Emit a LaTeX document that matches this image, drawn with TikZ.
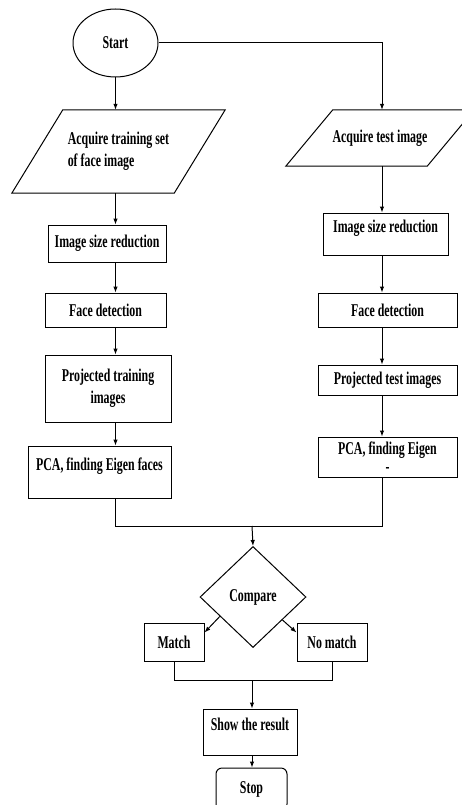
\documentclass[tikz,border=0pt]{standalone}
\usepackage{fontspec}
\setmainfont{Liberation Serif}[FakeStretch=0.66]
\usepackage{tikz}
\usetikzlibrary{
    arrows.meta,
    positioning,
    shapes.geometric,
    calc
}

\begin{document}
\begin{tikzpicture}[
        x=1pt, y=-1pt,
        every node/.style={
            font=\bfseries\fontsize{18}{22}\selectfont
        },
        block/.style={
            rectangle,
            draw,
            line width=1pt,
            align=center,
            inner sep=1pt
        },
        io/.style={
            rectangle,
            inner sep=1pt
        },
        line/.style={
            -{Latex[length=6pt,width=4.5pt]},
            line width=1pt
        },
        joint/.style={
            line width=1pt
        }
    ]

    \useasboundingbox (0,0) rectangle (461,805);

    \node[ellipse, draw, line width=1pt, minimum width=85pt,
        minimum height=68pt, inner sep=0pt] (start) at (115.5,43) {Start};

    \coordinate (rcol) at (382,0);

    \node[io, align=left, minimum width=162pt, minimum height=83pt]
        (acqtrain) at (118.5,151.5)
        {Acquire training set\\of face image};

    \node[io, align=center, minimum width=141pt, minimum height=56pt]
        (acqtest) at (380,138)
        {Acquire test image};

    \draw[joint] ([xshift=25.5pt]acqtrain.north west)
        -- ([xshift=25.5pt]acqtrain.north east)
        -- ([xshift=-25.5pt]acqtrain.south east)
        -- ([xshift=-25.5pt]acqtrain.south west) -- cycle;

    \draw[joint] ([xshift=23.5pt]acqtest.north west)
        -- ([xshift=23.5pt]acqtest.north east)
        -- ([xshift=-23.5pt]acqtest.south east)
        -- ([xshift=-23.5pt]acqtest.south west) -- cycle;

    \node[block, minimum width=118pt, minimum height=37pt] (reduce1)
        at (107,243.5) {Image size reduction};

    \node[block, minimum width=121pt, minimum height=34pt] (detect1)
        at (105.5,310) {Face detection};

    \node[block, minimum width=126pt, minimum height=67pt] (project1)
        at (108,388.5) {Projected training\\images};

    \node[block, minimum width=143pt, minimum height=52pt] (pca1)
        at (99.5,472) {PCA, finding Eigen faces\\[-6pt]\mbox{}};

    \node[block, minimum width=125pt, minimum height=42pt] (reduce2)
        at (385.5,234) {Image size reduction\\[-6pt]\mbox{}};

    \node[block, minimum width=139pt, minimum height=34pt] (detect2)
        at (387.5,310) {Face detection};

    \node[block, minimum width=139pt, minimum height=30pt] (project2)
        at (387.5,380) {Projected test images};

    \node[block, minimum width=139pt, minimum height=40pt] (pca2)
        at (387.5,457) {PCA, finding Eigen\\[-4pt]-};

    \node[diamond, draw, line width=1pt, minimum width=106pt,
        minimum height=101pt, inner sep=0pt] (compare) at (253,597)
        {Compare\\[-6pt]\mbox{}};

    \node[block, minimum width=60pt, minimum height=38pt] (match)
        at (174,642) {Match};

    \node[block, minimum width=70pt, minimum height=38pt] (nomatch)
        at (332,642) {No match};

    \node[block, minimum width=94pt, minimum height=46pt] (result)
        at (250,732) {Show the result\\[-6pt]\mbox{}};

    \node[block, rounded corners=6pt, minimum width=71pt,
        minimum height=42pt] (stop) at (251.5,789) {Stop};

    \coordinate (join1) at (252,526);
    \coordinate (join2) at (252,680);

    \draw[line] (start.south) -- (acqtrain.north -| start.south);
    \draw[line] (start.east) -| (acqtest.north -| rcol);

    \draw[line] (acqtrain.south -| start.south) -- (reduce1.north -| start.south);
    \draw[line] (reduce1.south -| start.south) -- (detect1.north -| start.south);
    \draw[line] (detect1.south -| start.south) -- (project1.north -| start.south);
    \draw[line] (project1.south -| start.south) -- (pca1.north -| start.south);

    \draw[line] (acqtest.south -| rcol) -- (reduce2.north -| rcol);
    \draw[line] (reduce2.south -| rcol) -- (detect2.north -| rcol);
    \draw[line] (detect2.south -| rcol) -- (project2.north -| rcol);
    \draw[line] (project2.south -| rcol) -- (pca2.north -| rcol);

    \draw[joint] (pca1.south -| start.south) |- (join1);
    \draw[joint] (pca2.south -| rcol) |- (join1);
    \draw[line] (join1) -- (compare.north);

    \draw[line] ($(compare.west)!0.38!(compare.south)$)
        -- ([yshift=-10pt]match.north east);
    \draw[line] ($(compare.east)!0.45!(compare.south)$)
        -- ([yshift=-10pt]nomatch.north west);

    \draw[joint] (match.south) |- (join2);
    \draw[joint] (nomatch.south) |- (join2);
    \draw[line] (join2) -- (result.north -| join2);
    \draw[line] (result.south -| join2) -- (stop.north -| join2);

\end{tikzpicture}
\end{document}
